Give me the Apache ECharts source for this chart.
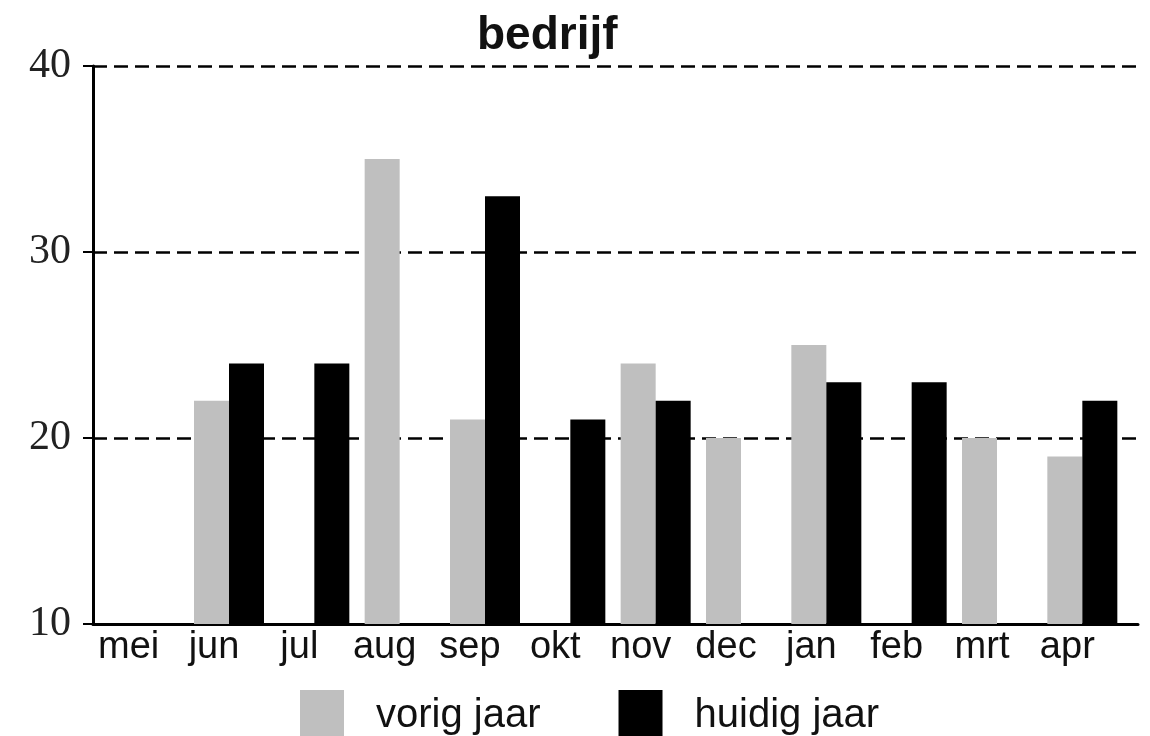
<!DOCTYPE html>
<html>
<head>
<meta charset="utf-8">
<title>bedrijf</title>
<script src="https://cdn.jsdelivr.net/npm/echarts@6/dist/echarts.min.js"></script>
<style>
  html, body { margin: 0; padding: 0; background: #fff; }
  #tu { width: 1150px; height: 736px; }
</style>
</head>
<body>
<div id="tu"></div>
<script>
// maanden en waarden (null = geen staaf)
var months = ["mei", "jun", "jul", "aug", "sep", "okt", "nov", "dec", "jan", "feb", "mrt", "apr"];
var vorigJaar = [null, 22, null, 35, 21, null, 24, 20, 25, null, 20, 19];
var huidigJaar = [null, 24, 24, null, 33, 21, 22, null, 23, 23, null, 22];
var yTicks = [10, 20, 30, 40];

var sans = "'Liberation Sans', Arial, sans-serif";
var serif = "'Liberation Serif', 'Times New Roman', serif";

var myChart = echarts.init(document.getElementById("tu"));

var option = {
  backgroundColor: "#fff",
  animation: false,
  title: {
    text: "bedrijf",
    left: 472,
    top: 8,
    textStyle: { fontFamily: sans, fontSize: 46, fontWeight: "bold", color: "#111" }
  },
  legend: {
    data: ["vorig jaar", "huidig jaar"],
    left: 300,
    top: 690,
    padding: 0,
    icon: "rect",
    itemWidth: 44,
    itemHeight: 52,
    itemGap: 78,
    textStyle: { fontFamily: sans, fontSize: 40, color: "#111", padding: [0, 0, 0, 27] }
  },
  grid: [
    // staven
    { left: 101, right: 25, top: 66, bottom: 112 },
    // kader: y-as, stippellijnen, x-aslijn
    { left: 93, right: 12, top: 66, bottom: 112 }
  ],
  xAxis: [
    {
      type: "category",
      gridIndex: 0,
      data: months,
      axisLine: { show: false },
      axisTick: { show: false },
      axisLabel: {
        fontFamily: sans,
        fontSize: 38,
        color: "#111",
        margin: 5,
        padding: [0, 30, 0, 0]
      }
    },
    {
      type: "value",
      gridIndex: 1,
      min: 0,
      max: 1,
      axisLine: { show: true, lineStyle: { color: "#000", width: 3 } },
      axisTick: { show: false },
      axisLabel: { show: false },
      splitLine: { show: false }
    }
  ],
  yAxis: [
    {
      type: "value",
      gridIndex: 0,
      min: yTicks[0],
      max: yTicks[yTicks.length - 1],
      interval: 10,
      show: false
    },
    {
      type: "value",
      gridIndex: 1,
      min: yTicks[0],
      max: yTicks[yTicks.length - 1],
      interval: 10,
      axisLine: { show: true, lineStyle: { color: "#000", width: 3 } },
      axisTick: { show: true, length: 10, lineStyle: { color: "#000", width: 2 } },
      axisLabel: { fontFamily: serif, fontSize: 42, color: "#222", margin: 22 },
      splitLine: { show: true, lineStyle: { color: "#000", width: 2.5, type: [14, 7] } }
    }
  ],
  series: [
    {
      name: "vorig jaar",
      type: "bar",
      xAxisIndex: 0,
      yAxisIndex: 0,
      barWidth: 35,
      barGap: "0%",
      itemStyle: { color: "#bfbfbf" },
      data: vorigJaar
    },
    {
      name: "huidig jaar",
      type: "bar",
      xAxisIndex: 0,
      yAxisIndex: 0,
      barWidth: 35,
      barGap: "0%",
      itemStyle: { color: "#000" },
      data: huidigJaar
    }
  ]
};

myChart.setOption(option);
</script>
</body>
</html>
